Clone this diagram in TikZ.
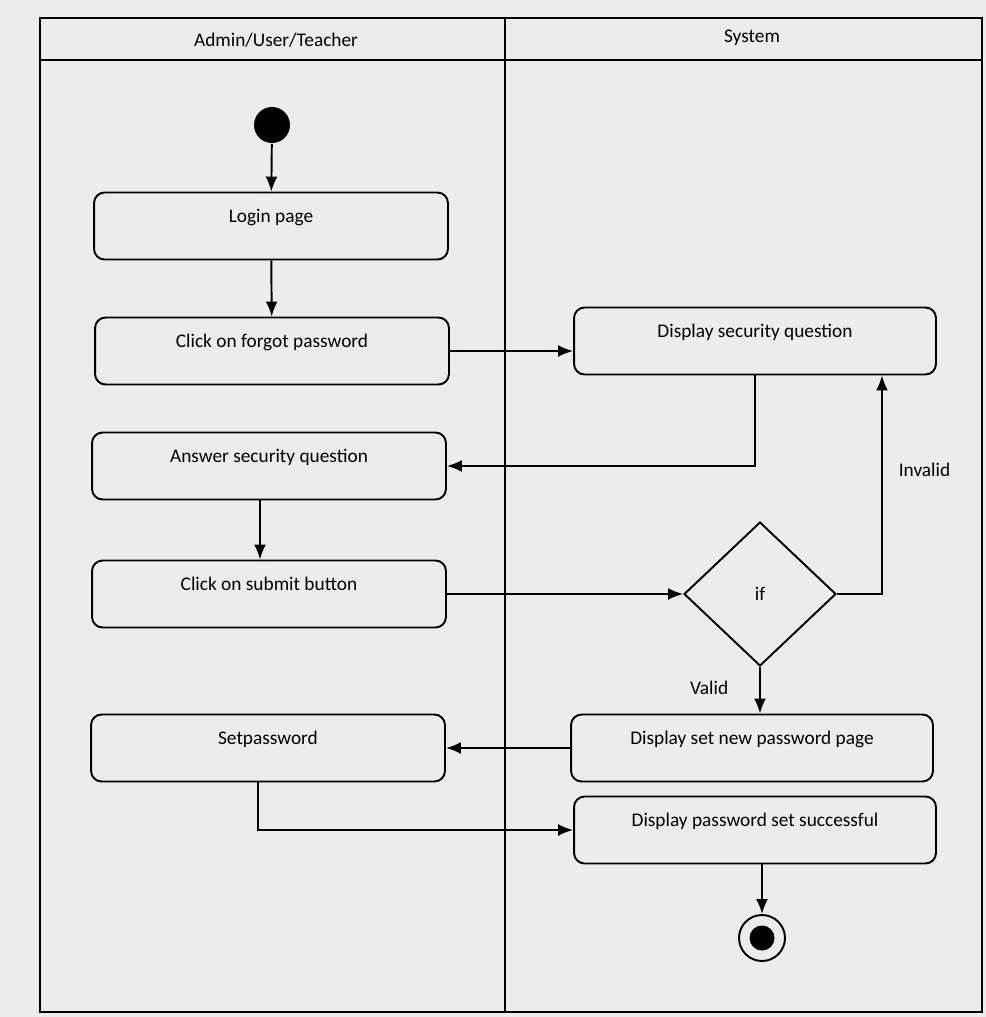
\documentclass[tikz,border=0pt]{standalone}
\usepackage{fontspec}
\setmainfont{Carlito}
\usetikzlibrary{shapes.geometric,arrows.meta}
\definecolor{paper}{RGB}{236,237,234}

\begin{document}
\begin{tikzpicture}[x=0.02cm,y=-0.02cm,line width=1.1pt,
    flow/.style={-{Latex[length=3mm,width=2.4mm]}},
    activity/.style={draw,rounded corners=6pt,minimum height=1.34cm,
        text height=0.25cm,text depth=0.4cm,font=\fontsize{11}{13}\selectfont},
    userbox/.style={activity,minimum width=7.08cm},
    sysbox/.style={activity,minimum width=7.24cm},
    decision/.style={draw,diamond,minimum width=3.04cm,minimum height=2.88cm,
        inner sep=0pt,font=\fontsize{11}{13}\selectfont},
    lbl/.style={font=\fontsize{11}{13}\selectfont}]
		\fill[paper] (0,0) rectangle (986,1017);
		\useasboundingbox (0,0) rectangle (986,1017);

		% swimlanes
		\draw (40,18) rectangle (982,1012);
		\draw (40,60) -- (982,60);
		\draw (505,18) -- (505,1012);
	    \node[lbl] (userlane) at (276,40) {Admin/User/Teacher};
	    \node[lbl] (syslane) at (752,38) {System};

		\node[circle,fill=black,minimum size=0.72cm,inner sep=0pt] (start) at (272,125) {};
		\node[userbox] (login) at (271,226) {Login page};
		\node[userbox] (forgot) at (272,351) {Click on forgot password};
		\node[sysbox] (dsq) at (755,341) {Display security question};
		\node[userbox] (answer) at (269,466) {Answer security question};
		\node[userbox] (submit) at (269,594) {Click on submit button};
		\node[decision] (ifd) at (760,594) {if};
		\node[sysbox] (dsn) at (752,748) {Display set new password page};
		\node[userbox] (setp) at (268,748) {Setpassword};
		\node[sysbox] (dps) at (755,830) {Display password set successful};
		\node[draw,circle,minimum size=0.92cm,inner sep=0pt] (stop) at (762,938) {};
		\node[circle,fill=black,minimum size=0.5cm,inner sep=0pt] (stopdot) at (762,938) {};

		\draw[flow] (start) -- (login);
		\draw[flow] (login) -- (forgot);
		\draw[flow] (forgot.east) -- (forgot.east -| dsq.west);
		\draw[flow] (dsq.south) |- (answer.east);
		\draw[flow] ([xshift=-0.18cm]answer.south) -- ([xshift=-0.18cm]submit.north);
		\draw[flow] (submit.east) -- (ifd.west);
		\draw[flow] (ifd.east) -| ([xshift=2.54cm]dsq.south)
         node[lbl,pos=0.785,right,xshift=0.2cm] (invalid) {Invalid};
		\draw[flow] (ifd.south) -- (ifd.south |- dsn.north)
         node[lbl,pos=0.45,left,xshift=-0.5cm] (valid) {Valid};
		\draw[flow] (dsn.west) -- (setp.east);
		\draw[flow] ([xshift=-0.2cm]setp.south) |- (dps.west);
		\draw[flow] (dps.south -| stop) -- (stop);
    \end{tikzpicture}
\end{document}
